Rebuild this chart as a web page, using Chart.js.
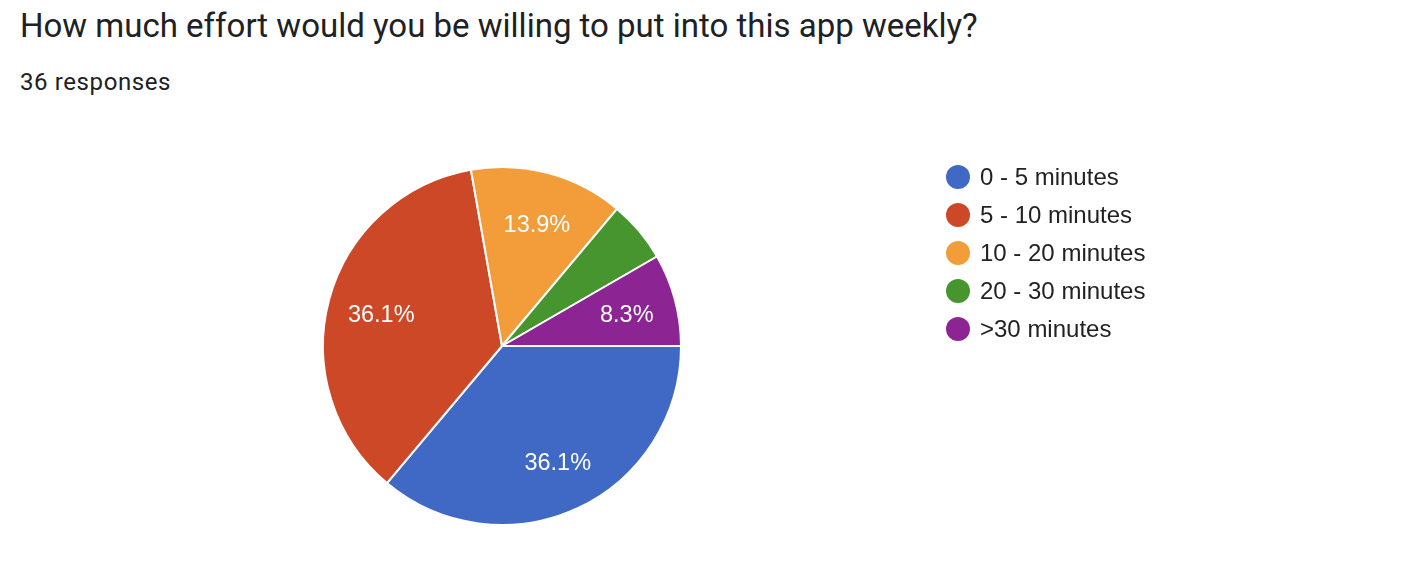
<!DOCTYPE html>
<html>
<head>
<meta charset="utf-8">
<script src="https://cdn.jsdelivr.net/npm/chart.js@4"></script>
<style>
    body { margin: 0; background: #fff; width: 1404px; height: 566px; position: relative; overflow: hidden; }
    #title { position: absolute; left: 20px; top: 6px; font: 33px Roboto, sans-serif; color: #202124; white-space: nowrap; }
    #subtitle { position: absolute; left: 20px; top: 68px; font: 24px Roboto, sans-serif; color: #202124; white-space: nowrap; letter-spacing: 0.6px; }
    #chartBox { position: absolute; left: 0; top: 0; width: 1404px; height: 566px; }
    #legend { position: absolute; left: 946px; top: 158px; font: 24px "Liberation Sans", Arial, sans-serif; color: #222; }
    .item { height: 38px; display: flex; align-items: center; }
    .dot { width: 24px; height: 24px; border-radius: 50%; margin-right: 10px; }
</style>
</head>
<body>
<div id="title">How much effort would you be willing to put into this app weekly?</div>
<div id="subtitle">36 responses</div>
<div id="chartBox"><canvas id="effortChart" width="1404" height="566"></canvas></div>
<div id="legend"></div>
<script>
// Veriler
const categories = ['0 - 5 minutes', '5 - 10 minutes', '10 - 20 minutes', '20 - 30 minutes', '>30 minutes'];
const responses = [13, 13, 5, 2, 3];
const sliceColors = ['#3f69c5', '#cc4827', '#f29d3a', '#46952f', '#8d2494'];

// Dilim içindeki yüzde etiketleri
const percentLabels = {
    id: 'percentLabels',
    afterDatasetsDraw(chart) {
        const ctx = chart.ctx;
        const meta = chart.getDatasetMeta(0);
        const total = responses.reduce((a, b) => a + b, 0);
        ctx.save();
        ctx.font = '23.5px "Liberation Sans", Arial, sans-serif';
        ctx.fillStyle = '#fff';
        ctx.textAlign = 'center';
        ctx.textBaseline = 'middle';
        meta.data.forEach((arc, i) => {
            const pct = responses[i] / total * 100;
            if (pct < 7) return;
            const p = arc.getProps(['x', 'y', 'startAngle', 'endAngle', 'outerRadius'], true);
            const mid = (p.startAngle + p.endAngle) / 2;
            const r = p.outerRadius * 0.71;
            ctx.fillText(pct.toFixed(1) + '%', p.x + Math.cos(mid) * r + 2, p.y + Math.sin(mid) * r + 2);
        });
        ctx.restore();
    }
};

const effortChart = new Chart(document.getElementById('effortChart'), {
    type: 'pie',
    data: {
        labels: categories,
        datasets: [{
            data: responses,
            backgroundColor: sliceColors,
            borderColor: '#fff',
            borderWidth: 2,
            hoverOffset: 0
        }]
    },
    options: {
        responsive: false,
        animation: false,
        rotation: 90,
        layout: { padding: { left: 322, top: 166, right: 722, bottom: 40 } },
        plugins: {
            legend: { display: false },
            tooltip: { enabled: false }
        }
    },
    plugins: [percentLabels]
});

// HTML lejant
const legendEl = document.getElementById('legend');
categories.forEach((c, i) => {
    const row = document.createElement('div');
    row.className = 'item';
    const dot = document.createElement('span');
    dot.className = 'dot';
    dot.style.background = sliceColors[i];
    const txt = document.createElement('span');
    txt.textContent = c;
    row.appendChild(dot);
    row.appendChild(txt);
    legendEl.appendChild(row);
});
</script>
</body>
</html>
